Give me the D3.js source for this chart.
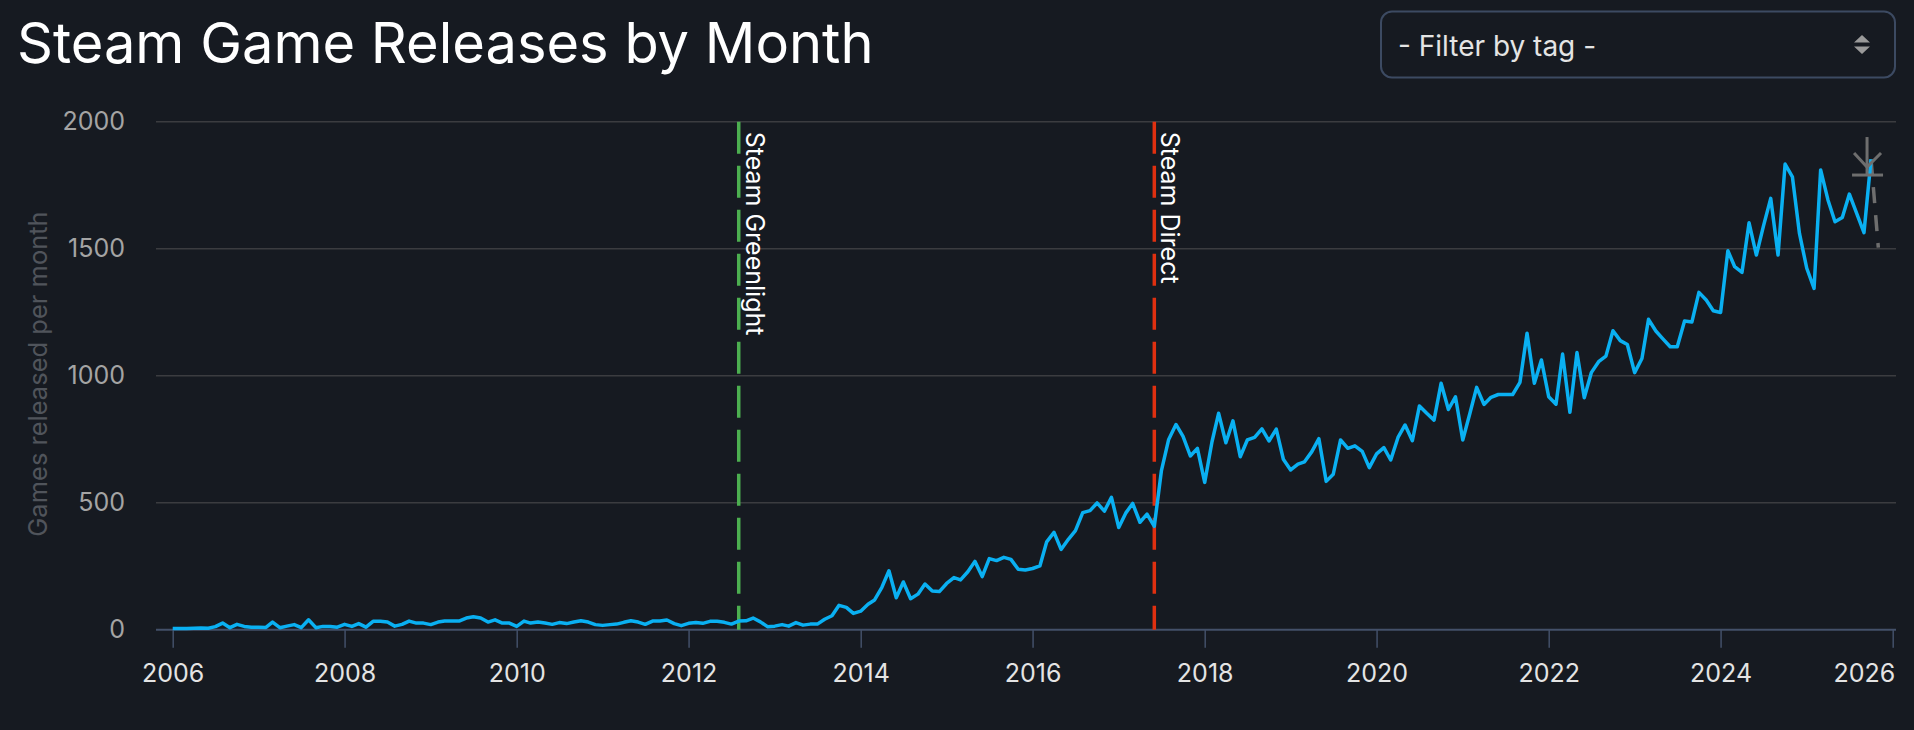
<!DOCTYPE html>
<html>
<head>
<meta charset="utf-8">
<script src="https://cdn.jsdelivr.net/npm/d3@7"></script>
<style>
  html, body { margin: 0; padding: 0; background: #161a21; }
  svg { display: block; font-family: Inter, "Noto Sans", sans-serif; }
</style>
</head>
<body>
<svg id="chart" width="1914" height="730"></svg>
<script>
// ---- Data ----
const firstMonth = "2006-01";
const releases = [
  5, 5, 5, 6, 7, 6, 12, 26, 8, 21, 13, 10,
  10, 9, 30, 8, 14, 20, 8, 39, 8, 13, 13, 10,
  21, 13, 24, 10, 33, 33, 30, 14, 21, 34, 26, 26,
  20, 30, 34, 34, 34, 46, 51, 46, 30, 39, 26, 26,
  13, 34, 26, 30, 26, 21, 28, 24, 30, 35, 30, 20,
  17, 20, 22, 29, 35, 30, 21, 34, 34, 38, 24, 16,
  25, 28, 25, 33, 33, 29, 22, 34, 35, 46, 31, 12,
  14, 20, 14, 28, 18, 22, 22, 41, 55, 96, 88, 64,
  73, 100, 117, 167, 232, 126, 188, 122, 140, 180, 152, 150,
  182, 205, 196, 228, 269, 209, 280, 272, 285, 277, 238, 235,
  241, 251, 346, 383, 316, 356, 390, 461, 469, 499, 467, 521,
  402, 461, 497, 423, 455, 407, 625, 749, 808, 761, 684, 714,
  580, 740, 852, 736, 822, 681, 747, 757, 791, 743, 790, 671,
  629, 652, 661, 701, 752, 584, 612, 747, 714, 724, 702, 638,
  692, 717, 668, 757, 806, 744, 881, 852, 825, 970, 867, 917,
  747, 854, 954, 887, 915, 926, 926, 926, 974, 1167, 970, 1062,
  917, 888, 1085, 856, 1091, 913, 1012, 1055, 1077, 1177, 1138, 1123,
  1012, 1068, 1222, 1176, 1145, 1114, 1114, 1215, 1211, 1328, 1298, 1256,
  1249, 1492, 1429, 1407, 1602, 1475, 1589, 1698, 1475, 1833, 1783, 1560,
  1423, 1344, 1810, 1692, 1606, 1623, 1715, 1639, 1563, 1852
];
const projectedValue = 1504;   // partial / projected next month (dashed)
const estimateValue = 1790;    // gray estimate marker
const events = [
  { date: "2012-08-01", label: "Steam Greenlight", color: "#4caf50" },
  { date: "2017-06-01", label: "Steam Direct", color: "#e03010" }
];
const yTicks = [0, 500, 1000, 1500, 2000];
const xTickYears = [2006, 2008, 2010, 2012, 2014, 2016, 2018, 2020, 2022, 2024, 2026];
const titleText = "Steam Game Releases by Month";
const yAxisTitle = "Games released per month";
const filterText = "- Filter by tag -";

// ---- Setup ----
const parseMonth = d3.timeParse("%Y-%m");
const parseDay = d3.timeParse("%Y-%m-%d");
const start = parseMonth(firstMonth);
const months = releases.map((_, i) => d3.timeMonth.offset(start, i));
const data = months.map((d, i) => ({ date: d, value: releases[i] }));
const lastPoint = data[data.length - 1];
const projected = { date: d3.timeMonth.offset(lastPoint.date, 1), value: projectedValue };

const svg = d3.select("#chart");
const gridLeft = 156, gridRight = 1896;

const x = d3.scaleTime()
  .domain([new Date(2006, 0, 1), new Date(2026, 0, 1)])
  .range([172.7, 1892.7]);
const y = d3.scaleLinear().domain([0, 2000]).range([629.7, 121.7]);

// Title
svg.append("text")
  .attr("x", 17).attr("y", 63)
  .attr("fill", "#ffffff")
  .attr("font-size", 56)
  .attr("font-weight", 400)
  .text(titleText);

// Filter select box
const sel = svg.append("g");
sel.append("rect")
  .attr("x", 1381).attr("y", 11.5)
  .attr("width", 514).attr("height", 66)
  .attr("rx", 11)
  .attr("fill", "#161a21")
  .attr("stroke", "#3c4a62").attr("stroke-width", 2);
sel.append("text")
  .attr("x", 1398).attr("y", 56)
  .attr("fill", "#e4e4e4")
  .attr("font-size", 28)
  .text(filterText);
sel.append("path")
  .attr("d", "M1854,42.5 L1862,35 L1870,42.5 Z M1854,46.5 L1862,54 L1870,46.5 Z")
  .attr("fill", "#9a9a9a");

// Gridlines
svg.append("g").selectAll("line")
  .data(yTicks.filter(t => t > 0))
  .join("line")
  .attr("x1", gridLeft).attr("x2", gridRight)
  .attr("y1", d => y(d)).attr("y2", d => y(d))
  .attr("stroke", "#3b3c40").attr("stroke-width", 1.5);

// Y axis labels
const yAxis = d3.axisLeft(y).tickValues(yTicks).tickFormat(d3.format("d")).tickSize(0).tickPadding(31);
const gy = svg.append("g").attr("transform", `translate(${gridLeft},0)`).call(yAxis);
gy.select(".domain").remove();
gy.selectAll("text")
  .attr("fill", "#a4a4a4")
  .attr("font-size", 25)
  .attr("font-family", "Inter, 'Noto Sans', sans-serif");

// Y axis title
svg.append("text")
  .attr("transform", `translate(46.5,374) rotate(-90)`)
  .attr("text-anchor", "middle")
  .attr("fill", "#50545b")
  .attr("font-size", 25.5)
  .text(yAxisTitle);

// X axis
const xAxis = d3.axisBottom(x)
  .tickValues(xTickYears.map(yr => new Date(yr, 0, 1)))
  .tickFormat(d3.timeFormat("%Y"))
  .tickSize(18).tickPadding(17);
const gx = svg.append("g").attr("transform", `translate(0,${y(0)})`).call(xAxis);
gx.select(".domain").remove();
gx.selectAll(".tick line").attr("stroke", "#435069").attr("stroke-width", 1.5);
gx.selectAll("text")
  .attr("fill", "#e4e4e4")
  .attr("font-size", 25)
  .attr("font-family", "Inter, 'Noto Sans', sans-serif");
// keep last label inside the chart
gx.selectAll(".tick").filter((d, i, n) => i === n.length - 1).select("text")
  .attr("text-anchor", "end").attr("x", 2);
svg.append("line")
  .attr("x1", gridLeft).attr("x2", gridRight)
  .attr("y1", y(0)).attr("y2", y(0))
  .attr("stroke", "#435069").attr("stroke-width", 2);

// Event lines
const ev = svg.append("g").selectAll("g").data(events).join("g");
ev.append("line")
  .attr("x1", d => x(parseDay(d.date))).attr("x2", d => x(parseDay(d.date)))
  .attr("y1", y(2000)).attr("y2", y(0))
  .attr("stroke", d => d.color)
  .attr("stroke-width", 3.5)
  .attr("stroke-dasharray", "32,12");
ev.append("text")
  .attr("transform", d => `translate(${x(parseDay(d.date)) + 7},${y(2000) + 10}) rotate(90)`)
  .attr("fill", "#ffffff")
  .attr("font-size", 25)
  .text(d => d.label);

// Main line
const line = d3.line().x(d => x(d.date)).y(d => y(d.value));
svg.append("path")
  .datum([lastPoint, projected])
  .attr("d", line)
  .attr("fill", "none")
  .attr("stroke", "#6e6e6e")
  .attr("stroke-width", 3.5)
  .attr("stroke-dasharray", "16,12");
svg.append("path")
  .datum(data)
  .attr("d", line)
  .attr("fill", "none")
  .attr("stroke", "#0ab0f2")
  .attr("stroke-width", 3.5)
  .attr("stroke-linejoin", "round");

// Estimate marker
const mx = x(lastPoint.date) - 4;
const my = y(estimateValue);
const mk = svg.append("g").attr("stroke", "#6e6e6e").attr("stroke-width", 3).attr("fill", "none");
mk.append("line").attr("x1", mx).attr("x2", mx).attr("y1", my - 38).attr("y2", my);
mk.append("path").attr("d", `M${mx - 13},${my - 22} L${mx},${my - 8} L${mx + 14},${my - 22}`);
mk.append("line").attr("x1", mx - 15).attr("x2", mx + 16).attr("y1", my).attr("y2", my);
</script>
</body>
</html>
